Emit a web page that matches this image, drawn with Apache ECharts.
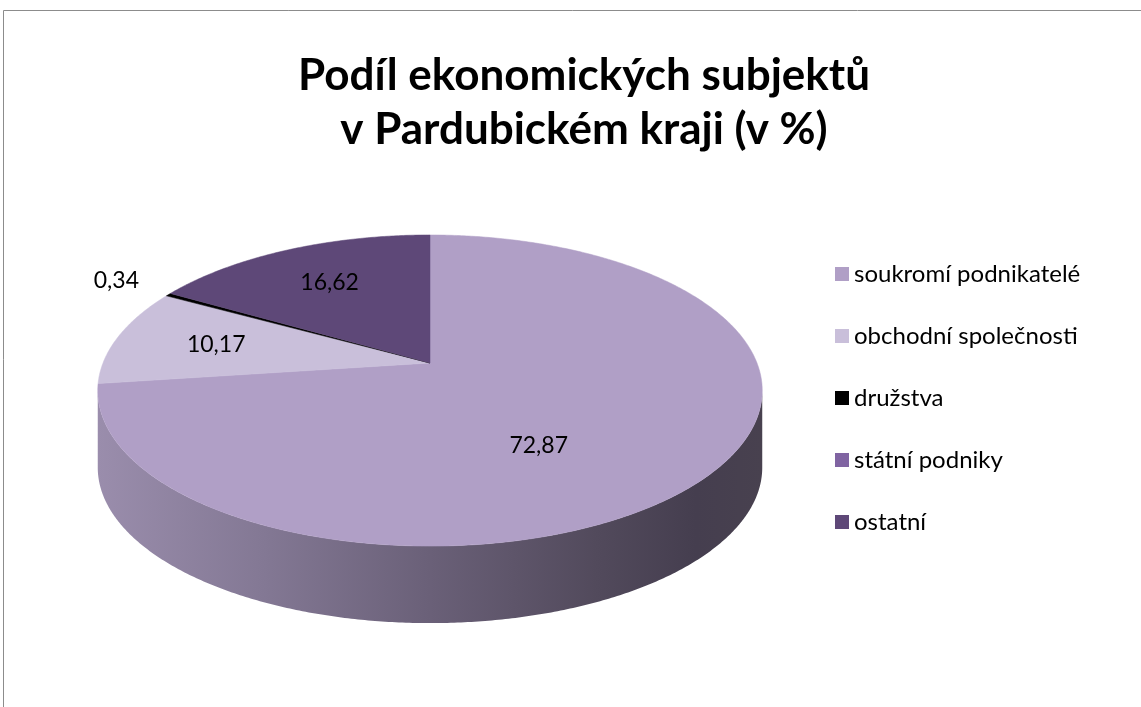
<!DOCTYPE html>
<html>
<head>
<meta charset="utf-8">
<script src="https://cdn.jsdelivr.net/npm/echarts@6/dist/echarts.min.js"></script>
<style>
    html, body { margin: 0; padding: 0; background: #fff; }
    #chart { width: 1141px; height: 707px; }
</style>
</head>
<body>
<div id="chart"></div>
<script>
const categories = [
    "soukromí podnikatelé",
    "obchodní společnosti",
    "družstva",
    "státní podniky",
    "ostatní"
];
const shares = [72.87, 10.17, 0.34, 0, 16.62];
const colors = ["#B09FC6", "#C9BFDA", "#000000", "#8064A2", "#5E4878"];

// 3D pie geometry (perspective ellipse)
const CX = 430, CY = 363, RX = 327, RY = 150.7, K = 0.177, DEPTH = 77;
const total = shares.reduce((a, b) => a + b, 0);

function project(deg, r) {
    const a = deg * Math.PI / 180;
    const u = r * Math.sin(a);
    const v = -r * Math.cos(a);
    const w = 1 - K * v;
    return [CX + RX * u / w, CY + RY * v / w];
}

function arcPoints(a0, a1, r, dy) {
    const pts = [];
    const n = Math.max(2, Math.ceil(Math.abs(a1 - a0) / 0.5));
    for (let i = 0; i <= n; i++) {
        const p = project(a0 + (a1 - a0) * i / n, r);
        pts.push([p[0], p[1] + (dy || 0)]);
    }
    return pts;
}

// front part of the wall that can be seen
const visFrom = Math.acos(-K) * 180 / Math.PI;
const visTo = 360 - visFrom;

function fmt(v) {
    return v.toFixed(2).replace(".", ",");
}

function makeRender(idx) {
    return function (params, api) {
        const val = api.value(0);
        if (!val) return null;
        let before = 0;
        for (let i = 0; i < idx; i++) before += shares[i];
        const a0 = before / total * 360;
        const a1 = (before + val) / total * 360;
        const children = [];

        const s = Math.max(a0, visFrom), e = Math.min(a1, visTo);
        if (e > s) {
            const top = arcPoints(s, e, 1, 0);
            const bottom = arcPoints(e, s, 1, DEPTH);
            children.push({
                type: "polygon",
                shape: { points: top.concat(bottom) },
                style: {
                    fill: {
                        type: "linear", x: CX - RX - 5, y: 0, x2: CX + RX + 5, y2: 0, global: true,
                        colorStops: [
                            { offset: 0, color: "#9A8DAC" },
                            { offset: 0.25, color: "#837894" },
                            { offset: 0.5, color: "#6A6078" },
                            { offset: 0.75, color: "#524A5C" },
                            { offset: 0.9, color: "#453E4F" },
                            { offset: 1, color: "#48414F" }
                        ]
                    }
                }
            });
        }

        children.push({
            type: "polygon",
            shape: { points: [[CX, CY]].concat(arcPoints(a0, a1, 1, 0)) },
            style: { fill: api.visual("color"), stroke: api.visual("color"), lineWidth: 0.5 }
        });

        const mid = (a0 + a1) / 2;
        const share = val / total * 100;
        let lp;
        if (share < 1) {
            lp = project(mid, 1.22);
        } else if (share > 50) {
            lp = project(mid, 0.42);
            lp[1] += DEPTH / 2;
        } else {
            lp = project(mid, 0.68);
        }
        children.push({
            type: "text",
            z2: 10,
            style: {
                text: fmt(val),
                x: lp[0], y: lp[1],
                align: "center", verticalAlign: "middle",
                font: "23px Lato", fill: "#000"
            }
        });

        return { type: "group", children: children };
    };
}

const chart = echarts.init(document.getElementById("chart"));

chart.setOption({
    backgroundColor: "#fff",
    animation: false,
    title: {
        text: "Podíl ekonomických subjektů\nv Pardubickém kraji (v %)",
        left: 579,
        top: 44,
        textAlign: "center",
        textStyle: {
            fontFamily: "Lato",
            fontWeight: "bold",
            fontSize: 44,
            lineHeight: 54,
            color: "#000"
        }
    },
    legend: {
        orient: "vertical",
        left: 830,
        top: 257,
        icon: "rect",
        itemWidth: 14,
        itemHeight: 14,
        itemGap: 38,
        data: categories,
        textStyle: {
            fontFamily: "Lato",
            fontSize: 24,
            lineHeight: 24,
            color: "#000"
        }
    },
    graphic: [{
        type: "rect",
        shape: { x: 3.5, y: 10.5, width: 1400, height: 900 },
        style: { fill: null, stroke: "#8c8c8c", lineWidth: 1 },
        silent: true
    }],
    series: categories.map((name, i) => ({
        type: "custom",
        name: name,
        coordinateSystem: "none",
        itemStyle: { color: colors[i] },
        renderItem: makeRender(i),
        data: [[shares[i]]]
    }))
});
</script>
</body>
</html>
